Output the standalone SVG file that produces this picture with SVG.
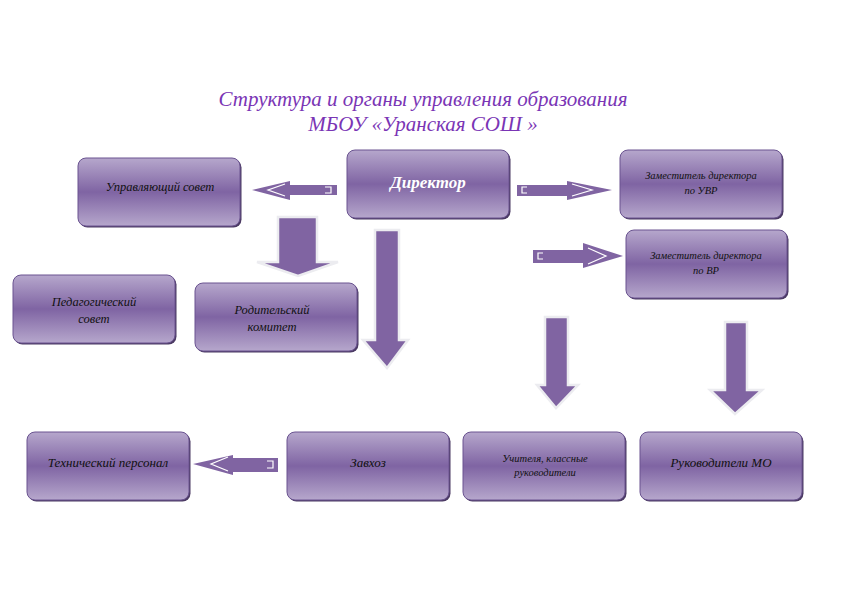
<svg xmlns="http://www.w3.org/2000/svg" width="842" height="595" viewBox="0 0 842 595">
<defs>
<linearGradient id="g" x1="0" y1="0" x2="0" y2="1">
<stop offset="0" stop-color="#b6a7cc"/>
<stop offset="0.5" stop-color="#7f64a3"/>
<stop offset="1" stop-color="#b6a7cc"/>
</linearGradient>
<style>
.box{fill:url(#g);stroke:#6a5390;stroke-width:1}
.sh{fill:#4b3a63}
.t{font-family:"Liberation Serif",serif;font-style:italic;font-size:12.5px;fill:#111;text-anchor:middle}
.s{font-size:10.5px}
.ttl{font-family:"Liberation Serif",serif;font-style:italic;font-size:21px;fill:#7a35b5;text-anchor:middle}
.ar{fill:#8064a2}
.dn{fill:#8064a2;stroke:#ececf0;stroke-width:2.5;stroke-linejoin:miter}
.hl{fill:none;stroke:#fff;stroke-width:1.2}
</style>
</defs>
<rect width="842" height="595" fill="#fff"/>
<g id="title">
<text class="ttl" x="423" y="106">Структура и органы управления образования</text>
<text class="ttl" x="423" y="131">МБОУ «Уранская СОШ »</text>
</g>
<g id="connectors">
<polygon class="ar" points="337,185 290,185 290,181 252,190 290,200 290,195 337,195"/>
<polyline class="hl" points="285,184 268,190 285,196"/>
<polyline class="hl" points="325,187 331,187 331,193 325,193"/>
<polygon class="ar" points="517,185 567,185 567,181 612,190 567,200 567,196 517,196"/>
<polyline class="hl" points="572,184 592,190 572,196"/>
<polyline class="hl" points="527,187 522,187 522,193 527,193"/>
<polygon class="ar" points="533,250 583,250 583,243 623,256 583,268 583,263 533,263"/>
<polyline class="hl" points="588,248 606,256 588,264"/>
<polyline class="hl" points="543,253 538,253 538,259 543,259"/>
<polygon class="dn" points="278,217 317,217 317,262 338,262 298,276 257,262 278,262"/>
<polygon class="dn" points="375,230 399,230 399,340 408,340 387,368 363,340 375,340"/>
<polygon class="dn" points="545,317 568,317 568,385 578,385 556,408 537,385 545,385"/>
<polygon class="dn" points="725,322 747,322 747,390 762,390 735,414 710,390 725,390"/>
<polygon class="ar" points="278,458 233,458 233,455 193,464 233,475 233,472 278,472"/>
<polyline class="hl" points="228,457 211,464 228,471"/>
<polyline class="hl" points="267,461 273,461 273,468 267,468"/>
</g>
<g id="n-council">
<rect class="sh" x="79.5" y="159.5" width="162" height="68" rx="8"/>
<rect class="box" x="78" y="158" width="162" height="68" rx="8"/>
<text class="t" x="160" y="191">Управляющий совет</text>
</g>
<g id="n-director">
<rect class="sh" x="348.5" y="151.5" width="162" height="68" rx="8"/>
<rect class="box" x="347" y="150" width="162" height="68" rx="8"/>
<text class="t" x="428" y="188" style="font-size:17px;fill:#fff;font-weight:bold">Директор</text>
</g>
<g id="n-uvr">
<rect class="sh" x="621.5" y="151.5" width="162" height="68" rx="8"/>
<rect class="box" x="620" y="150" width="162" height="68" rx="8"/>
<text class="t s" x="701" y="179">Заместитель директора</text>
<text class="t s" x="701" y="194">по УВР</text>
</g>
<g id="n-vr">
<rect class="sh" x="627.5" y="231.5" width="161" height="68" rx="8"/>
<rect class="box" x="626" y="230" width="161" height="68" rx="8"/>
<text class="t s" x="706" y="259">Заместитель директора</text>
<text class="t s" x="706" y="274">по ВР</text>
</g>
<g id="n-ped">
<rect class="sh" x="14.5" y="276.5" width="162" height="68" rx="8"/>
<rect class="box" x="13" y="275" width="162" height="68" rx="8"/>
<text class="t" x="94" y="306">Педагогический</text>
<text class="t" x="94" y="323">совет</text>
</g>
<g id="n-parent">
<rect class="sh" x="196.5" y="284.5" width="162" height="68" rx="8"/>
<rect class="box" x="195" y="283" width="162" height="68" rx="8"/>
<text class="t" x="272" y="314">Родительский</text>
<text class="t" x="272" y="331">комитет</text>
</g>
<g id="n-tech">
<rect class="sh" x="28.5" y="433.5" width="162" height="68" rx="8"/>
<rect class="box" x="27" y="432" width="162" height="68" rx="8"/>
<text class="t" x="108" y="467" style="font-size:13px">Технический персонал</text>
</g>
<g id="n-zavhoz">
<rect class="sh" x="288.5" y="433.5" width="162" height="68" rx="8"/>
<rect class="box" x="287" y="432" width="162" height="68" rx="8"/>
<text class="t" x="368" y="467" style="font-size:13px">Завхоз</text>
</g>
<g id="n-teachers">
<rect class="sh" x="464.5" y="433.5" width="162" height="68" rx="8"/>
<rect class="box" x="463" y="432" width="162" height="68" rx="8"/>
<text class="t s" x="545" y="462">Учителя, классные</text>
<text class="t s" x="545" y="476">руководители</text>
</g>
<g id="n-mo">
<rect class="sh" x="641.5" y="433.5" width="162" height="68" rx="8"/>
<rect class="box" x="640" y="432" width="162" height="68" rx="8"/>
<text class="t" x="721" y="467" style="font-size:13px">Руководители МО</text>
</g>
</svg>
